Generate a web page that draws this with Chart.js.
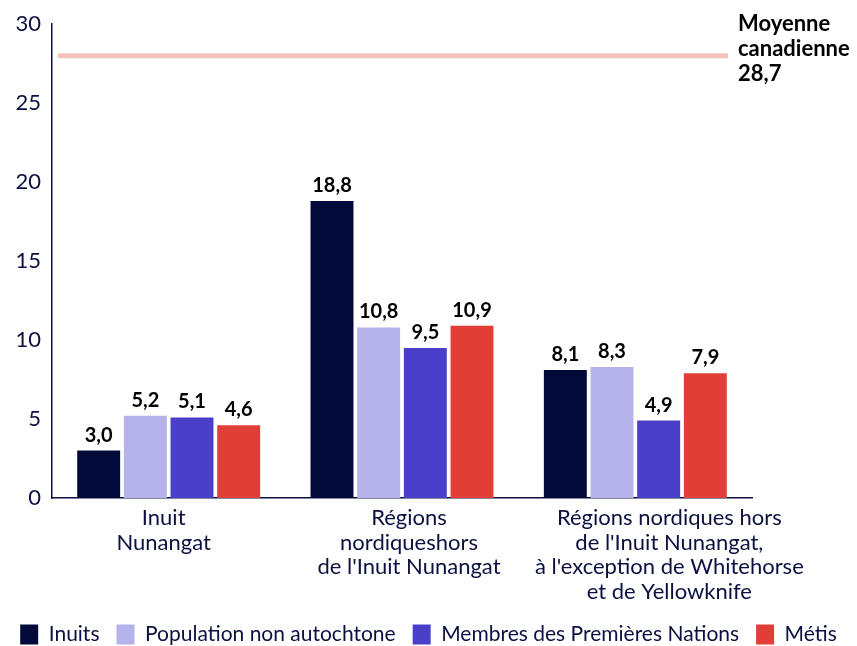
<!DOCTYPE html>
<html>
<head>
<meta charset="utf-8">
<script src="https://cdn.jsdelivr.net/npm/chart.js@4"></script>
<style>
  body { margin: 0; background: #fff; }
  #wrap { width: 857px; height: 646px; }
</style>
</head>
<body>
<div id="wrap"><canvas id="barChart"></canvas></div>
<script>
// categories (multi-line labels)
const categories = [
  ["Inuit", "Nunangat"],
  ["Régions", "nordiqueshors", "de l'Inuit Nunangat"],
  ["Régions nordiques hors", "de l'Inuit Nunangat,", "à l'exception de Whitehorse", "et de Yellowknife"]
];

// series values
const inuits = [3.0, 18.8, 8.1];
const nonAutochtone = [5.2, 10.8, 8.3];
const premieresNations = [5.1, 9.5, 4.9];
const metis = [4.6, 10.9, 7.9];

const seriesNames = ["Inuits", "Population non autochtone", "Membres des Premières Nations", "Métis"];
const seriesColors = ["#020a3a", "#b5b3ea", "#4a3fc9", "#e03e36"];

// reference line
const avgLabel = ["Moyenne", "canadienne", "28,7"];
const avgLineValue = 28.0;

// y ticks
const yTicks = [0, 5, 10, 15, 20, 25, 30];

const navy = "#0b1040";
const fontFamily = "Lato, 'DejaVu Sans', sans-serif";
// horizontal nudge of each category label (the original shifts the long one right)
const labelShift = [-5, 7, 34];

const fmt = (v) => v.toFixed(1).replace(".", ",");

// draws the value above each bar
const valueLabels = {
  id: "valueLabels",
  afterDatasetsDraw(chart) {
    const ctx = chart.ctx;
    ctx.save();
    ctx.font = "bold 20px " + fontFamily;
    ctx.fillStyle = "#000";
    ctx.textAlign = "center";
    ctx.textBaseline = "alphabetic";
    chart.data.datasets.forEach((ds, i) => {
      const meta = chart.getDatasetMeta(i);
      meta.data.forEach((bar, j) => {
        ctx.fillText(fmt(ds.data[j]), bar.x, bar.y - 9);
      });
    });
    ctx.restore();
  }
};

// category labels under the x axis
const categoryLabels = {
  id: "categoryLabels",
  afterDraw(chart) {
    const { ctx } = chart;
    const xs = chart.scales.x;
    ctx.save();
    ctx.font = "22px " + fontFamily;
    ctx.fillStyle = navy;
    ctx.textAlign = "center";
    ctx.textBaseline = "middle";
    chart.data.labels.forEach((lines, i) => {
      const x = xs.getPixelForTick(i) + labelShift[i];
      lines.forEach((t, k) => {
        ctx.fillText(t, x, xs.top + 20 + k * 24.5);
      });
    });
    ctx.restore();
  }
};

// horizontal Canadian average line + its label
const averageLine = {
  id: "averageLine",
  beforeDatasetsDraw(chart) {
    const { ctx, scales } = chart;
    const y = scales.y.getPixelForValue(avgLineValue);
    ctx.save();
    ctx.strokeStyle = "#f4c2bd";
    ctx.lineWidth = 5;
    ctx.beginPath();
    ctx.moveTo(chart.chartArea.left + 6, y);
    ctx.lineTo(chart.chartArea.right - 24, y);
    ctx.stroke();

    ctx.font = "bold 22px " + fontFamily;
    ctx.fillStyle = "#000";
    ctx.textAlign = "left";
    ctx.textBaseline = "alphabetic";
    avgLabel.forEach((t, k) => {
      ctx.fillText(t, chart.chartArea.right - 14, 31 + k * 25);
    });
    ctx.restore();
  }
};

const config = {
  type: "bar",
  data: {
    labels: categories,
    datasets: [inuits, nonAutochtone, premieresNations, metis].map((d, i) => ({
      label: seriesNames[i],
      data: d,
      backgroundColor: seriesColors[i],
      categoryPercentage: 0.8,
      barPercentage: 0.92
    }))
  },
  options: {
    responsive: true,
    maintainAspectRatio: false,
    animation: false,
    layout: { padding: { top: 20, right: 0, left: 0, bottom: -9 } },
    plugins: {
      tooltip: { enabled: false },
      legend: {
        position: "bottom",
        labels: {
          color: navy,
          font: { family: fontFamily, size: 21 },
          boxWidth: 18,
          boxHeight: 20,
          padding: 17,
          useBorderRadius: false
        }
      }
    },
    scales: {
      x: {
        grid: { display: false, drawTicks: false },
        border: { color: navy, width: 1.5 },
        ticks: { display: false },
        afterFit: (scale) => { scale.height = 109; }
      },
      y: {
        min: 0,
        max: 30,
        afterBuildTicks: (scale) => { scale.ticks = yTicks.map((v) => ({ value: v })); },
        grid: { display: false, drawTicks: false },
        border: { color: navy, width: 1.5 },
        ticks: {
          color: navy,
          font: { family: fontFamily, size: 22 },
          padding: 11
        },
        afterFit: (scale) => { scale.width = 52; }
      },
      // empty axis on the right that only reserves room for the average label
      yRight: {
        position: "right",
        display: true,
        grid: { display: false, drawTicks: false },
        border: { display: false },
        ticks: { display: false },
        afterFit: (scale) => { scale.width = 105; }
      }
    }
  },
  plugins: [averageLine, valueLabels, categoryLabels]
};

new Chart(document.getElementById("barChart"), config);
</script>
</body>
</html>
